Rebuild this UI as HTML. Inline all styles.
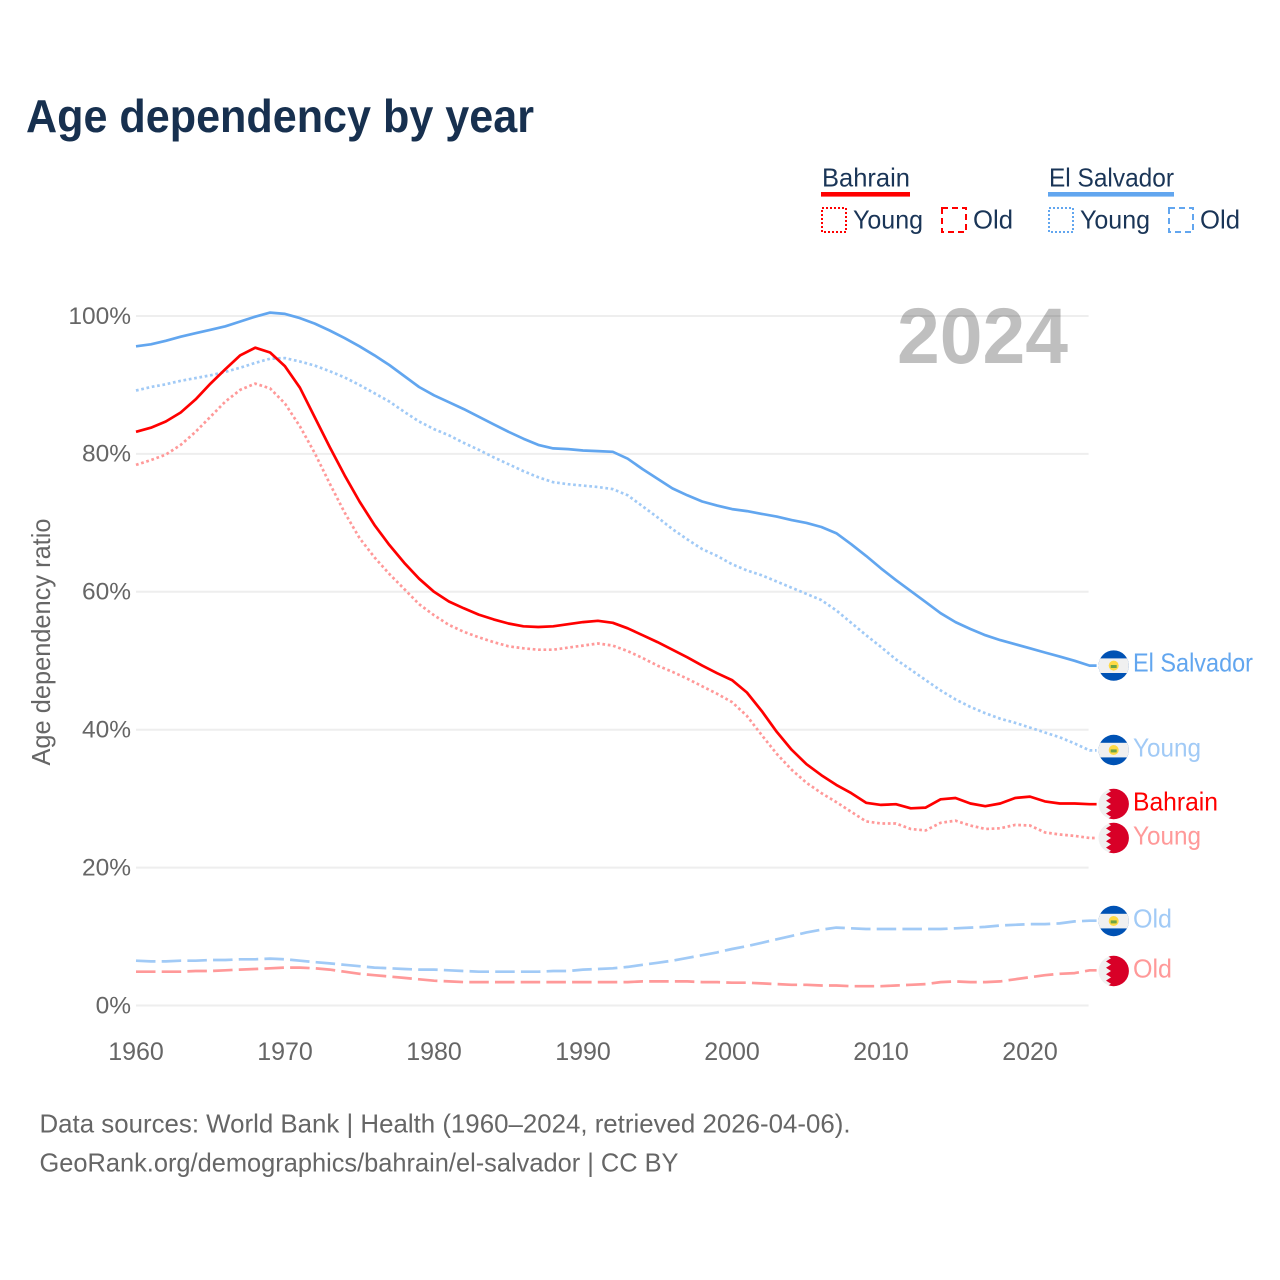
<!DOCTYPE html>
<html lang="en">
<head>
<meta charset="utf-8">
<title>Age dependency by year</title>
<style>
html,body{margin:0;padding:0;background:#fff}
svg{display:block}
text{font-family:"Liberation Sans",sans-serif}
</style>
</head>
<body>
<svg id="chart" xmlns="http://www.w3.org/2000/svg" width="1280" height="1280" viewBox="0 0 1280 1280">
<defs>
<clipPath id="flag-clip-sv-total"><circle cx="1113.7" cy="665.6" r="15.2"/></clipPath>
<clipPath id="flag-clip-sv-young"><circle cx="1113.7" cy="750" r="15.2"/></clipPath>
<clipPath id="flag-clip-sv-old"><circle cx="1113.7" cy="921" r="15.2"/></clipPath>
<clipPath id="flag-clip-bh-total"><circle cx="1113.7" cy="804" r="15.2"/></clipPath>
<clipPath id="flag-clip-bh-young"><circle cx="1113.7" cy="838" r="15.2"/></clipPath>
<clipPath id="flag-clip-bh-old"><circle cx="1113.7" cy="971" r="15.2"/></clipPath>
</defs>

<text x="26" y="132" font-size="46" font-weight="700" fill="#17304f" textLength="508" lengthAdjust="spacingAndGlyphs">Age dependency by year</text>

<g id="legend">
<text x="822" y="186.5" font-size="26" fill="#1a3557" textLength="88" lengthAdjust="spacingAndGlyphs">Bahrain</text>
<rect x="821" y="192" width="89" height="4.6" fill="#ff0000"/>
<rect x="822" y="208" width="24" height="24" fill="none" stroke="#ff0000" stroke-width="2" stroke-dasharray="2 2"/>
<text x="853" y="228.5" font-size="26" fill="#1a3557" textLength="70" lengthAdjust="spacingAndGlyphs">Young</text>
<rect x="942" y="208" width="24" height="24" fill="none" stroke="#ff0000" stroke-width="2" stroke-dasharray="6 4"/>
<text x="973" y="228.5" font-size="26" fill="#1a3557" textLength="40" lengthAdjust="spacingAndGlyphs">Old</text>

<text x="1049" y="186.5" font-size="26" fill="#1a3557" textLength="125" lengthAdjust="spacingAndGlyphs">El Salvador</text>
<rect x="1048" y="192" width="126" height="4.6" fill="#62a6ef"/>
<rect x="1049" y="208" width="24" height="24" fill="none" stroke="#62a6ef" stroke-width="2" stroke-dasharray="2 2"/>
<text x="1080" y="228.5" font-size="26" fill="#1a3557" textLength="70" lengthAdjust="spacingAndGlyphs">Young</text>
<rect x="1169" y="208" width="24" height="24" fill="none" stroke="#62a6ef" stroke-width="2" stroke-dasharray="6 4"/>
<text x="1200" y="228.5" font-size="26" fill="#1a3557" textLength="40" lengthAdjust="spacingAndGlyphs">Old</text>
</g>

<g id="grid"></g>
<g id="axis-labels"></g>

<text x="897" y="363" font-size="79" font-weight="700" fill="#000000" fill-opacity="0.25" textLength="171" lengthAdjust="spacingAndGlyphs">2024</text>

<text transform="translate(50 642) rotate(-90)" text-anchor="middle" font-size="26" fill="#666666" textLength="247" lengthAdjust="spacingAndGlyphs">Age dependency ratio</text>

<g id="series"></g>

<g id="flags">
<g clip-path="url(#flag-clip-sv-total)">
<rect x="1098" y="650" width="32" height="32" fill="#0052b4"/><rect x="1098" y="658.4" width="32" height="14.6" fill="#f0f0f0"/><circle cx="1113.7" cy="665.6" r="5" fill="#ffda44"/><rect x="1110.7" y="665" width="6" height="3" fill="#6da544"/>
</g>
<g clip-path="url(#flag-clip-sv-young)">
<rect x="1098" y="734" width="32" height="32" fill="#0052b4"/><rect x="1098" y="742.8" width="32" height="14.6" fill="#f0f0f0"/><circle cx="1113.7" cy="750" r="5" fill="#ffda44"/><rect x="1110.7" y="749.4" width="6" height="3" fill="#6da544"/>
</g>
<g clip-path="url(#flag-clip-sv-old)">
<rect x="1098" y="905" width="32" height="32" fill="#0052b4"/><rect x="1098" y="913.8" width="32" height="14.6" fill="#f0f0f0"/><circle cx="1113.7" cy="921" r="5" fill="#ffda44"/><rect x="1110.7" y="920.4" width="6" height="3" fill="#6da544"/>
</g>
<g clip-path="url(#flag-clip-bh-total)">
<rect x="1098" y="788" width="32" height="32" fill="#f0f0f0"/><path transform="translate(0 804)" d="M1130-16H1106L1111-12.8 1106-9.6 1111-6.4 1106-3.2 1111 0 1106 3.2 1111 6.4 1106 9.6 1111 12.8 1106 16H1130Z" fill="#d80027"/>
</g>
<g clip-path="url(#flag-clip-bh-young)">
<rect x="1098" y="822" width="32" height="32" fill="#f0f0f0"/><path transform="translate(0 838)" d="M1130-16H1106L1111-12.8 1106-9.6 1111-6.4 1106-3.2 1111 0 1106 3.2 1111 6.4 1106 9.6 1111 12.8 1106 16H1130Z" fill="#d80027"/>
</g>
<g clip-path="url(#flag-clip-bh-old)">
<rect x="1098" y="955" width="32" height="32" fill="#f0f0f0"/><path transform="translate(0 971)" d="M1130-16H1106L1111-12.8 1106-9.6 1111-6.4 1106-3.2 1111 0 1106 3.2 1111 6.4 1106 9.6 1111 12.8 1106 16H1130Z" fill="#d80027"/>
</g>
</g>

<g id="end-labels">
<text x="1133" y="671.5" font-size="26" fill="#62a6ef" textLength="120" lengthAdjust="spacingAndGlyphs">El Salvador</text>
<text x="1133" y="756.5" font-size="26" fill="#a1caf6" textLength="68" lengthAdjust="spacingAndGlyphs">Young</text>
<text x="1133" y="810.5" font-size="26" fill="#ff0000" textLength="85" lengthAdjust="spacingAndGlyphs">Bahrain</text>
<text x="1133" y="844.5" font-size="26" fill="#ff9999" textLength="68" lengthAdjust="spacingAndGlyphs">Young</text>
<text x="1133" y="927.5" font-size="26" fill="#a1caf6" textLength="39" lengthAdjust="spacingAndGlyphs">Old</text>
<text x="1133" y="977.5" font-size="26" fill="#ff9999" textLength="39" lengthAdjust="spacingAndGlyphs">Old</text>
</g>

<text x="39.5" y="1132.5" font-size="26" fill="#666666" textLength="811" lengthAdjust="spacingAndGlyphs">Data sources: World Bank | Health (1960–2024, retrieved 2026-04-06).</text>
<text x="39.5" y="1171.5" font-size="26" fill="#666666" textLength="639" lengthAdjust="spacingAndGlyphs">GeoRank.org/demographics/bahrain/el-salvador | CC BY</text>
</svg>

<script>
const startYear = 1960;
const xTickYears = [1960, 1970, 1980, 1990, 2000, 2010, 2020];
const yTickValues = [0, 20, 40, 60, 80, 100];

const salvadorTotal = [95.6,95.9,96.4,97.0,97.5,98.0,98.5,99.2,99.9,100.5,100.3,99.7,98.9,97.9,96.8,95.6,94.3,92.9,91.3,89.7,88.5,87.5,86.5,85.4,84.3,83.2,82.2,81.3,80.8,80.7,80.5,80.4,80.3,79.3,77.8,76.4,75.0,74.0,73.1,72.5,72.0,71.7,71.3,70.9,70.4,70.0,69.4,68.5,66.9,65.2,63.4,61.7,60.1,58.5,56.9,55.6,54.6,53.7,53.0,52.4,51.8,51.2,50.6,50.0,49.3];
const salvadorYoung = [89.2,89.7,90.1,90.6,91.0,91.4,91.9,92.5,93.2,93.8,93.9,93.4,92.8,92.0,91.1,90.0,88.8,87.6,86.1,84.7,83.6,82.7,81.6,80.6,79.5,78.5,77.5,76.6,75.9,75.6,75.4,75.2,74.9,74.0,72.4,70.8,69.1,67.6,66.2,65.2,64.0,63.1,62.4,61.5,60.6,59.7,58.8,57.3,55.5,53.7,52.0,50.2,48.7,47.2,45.7,44.4,43.3,42.4,41.6,41.0,40.3,39.6,38.9,38.0,37.0];
const salvadorOld = [6.5,6.4,6.4,6.5,6.5,6.6,6.6,6.7,6.7,6.8,6.7,6.5,6.3,6.1,5.9,5.7,5.5,5.4,5.3,5.2,5.2,5.1,5.0,4.9,4.9,4.9,4.9,4.9,5.0,5.0,5.2,5.3,5.4,5.6,5.9,6.2,6.5,6.9,7.3,7.7,8.2,8.6,9.1,9.6,10.1,10.6,11.0,11.3,11.2,11.1,11.1,11.1,11.1,11.1,11.1,11.2,11.3,11.4,11.6,11.7,11.8,11.8,11.9,12.2,12.3];
const bahrainTotal = [83.2,83.8,84.7,86.0,87.9,90.2,92.3,94.3,95.4,94.7,92.7,89.6,85.3,81.0,76.9,73.1,69.7,66.8,64.2,61.9,60.0,58.6,57.6,56.7,56.0,55.4,55.0,54.9,55.0,55.3,55.6,55.8,55.5,54.7,53.7,52.7,51.6,50.5,49.3,48.2,47.2,45.4,42.7,39.7,37.1,35.0,33.4,32.0,30.8,29.4,29.1,29.2,28.6,28.7,29.9,30.1,29.3,28.9,29.3,30.1,30.3,29.6,29.3,29.3,29.2];
const bahrainYoung = [78.4,79.1,79.9,81.3,83.2,85.4,87.6,89.3,90.2,89.5,87.3,84.0,80.1,75.7,71.5,67.8,65.0,62.6,60.4,58.2,56.6,55.2,54.2,53.4,52.7,52.1,51.8,51.6,51.6,51.9,52.2,52.5,52.2,51.4,50.4,49.3,48.4,47.4,46.3,45.2,44.0,42.0,39.2,36.5,34.2,32.3,30.8,29.5,28.1,26.7,26.4,26.4,25.6,25.4,26.5,26.8,26.1,25.6,25.7,26.2,26.1,25.1,24.8,24.6,24.3];
const bahrainOld = [4.9,4.9,4.9,4.9,5.0,5.0,5.1,5.2,5.3,5.4,5.5,5.5,5.4,5.2,4.9,4.6,4.4,4.2,4.0,3.8,3.6,3.5,3.4,3.4,3.4,3.4,3.4,3.4,3.4,3.4,3.4,3.4,3.4,3.4,3.5,3.5,3.5,3.5,3.4,3.4,3.3,3.3,3.2,3.1,3.0,3.0,2.9,2.9,2.8,2.8,2.8,2.9,3.0,3.1,3.4,3.5,3.4,3.4,3.5,3.8,4.1,4.4,4.6,4.7,5.1];

const SVG_NS = 'http://www.w3.org/2000/svg';
const xPos = function (year) { return 136 + (year - startYear) * 14.9; };
const yPos = function (pct) { return 1005.5 - pct * 6.895; };

const grid = document.getElementById('grid');
const tickLabels = document.getElementById('axis-labels');

yTickValues.forEach(function (v) {
  const line = document.createElementNS(SVG_NS, 'line');
  line.setAttribute('x1', xPos(startYear));
  line.setAttribute('x2', xPos(2024) - 1);
  line.setAttribute('y1', yPos(v));
  line.setAttribute('y2', yPos(v));
  line.setAttribute('stroke', '#eeeeee');
  line.setAttribute('stroke-width', '2');
  
  
  grid.appendChild(line);

  const label = document.createElementNS(SVG_NS, 'text');
  label.setAttribute('x', 131);
  label.setAttribute('y', yPos(v) + 7.8);
  label.setAttribute('text-anchor', 'end');
  label.setAttribute('font-size', '24.5');
  label.setAttribute('fill', '#666666');
  
  
  label.textContent = v + '%';
  tickLabels.appendChild(label);
});

xTickYears.forEach(function (year) {
  const label = document.createElementNS(SVG_NS, 'text');
  label.setAttribute('x', xPos(year));
  label.setAttribute('y', 1060);
  label.setAttribute('text-anchor', 'middle');
  label.setAttribute('font-size', '25');
  label.setAttribute('fill', '#666666');
  
  
  label.textContent = year;
  tickLabels.appendChild(label);
});

const seriesGroup = document.getElementById('series');

function drawSeries(values, color, dash, width, name) {
  let d = '';
  values.forEach(function (v, i) {
    d += (i ? 'L' : 'M') + xPos(startYear + i).toFixed(1) + ' ' + yPos(v).toFixed(1);
  });
  d += 'L' + (xPos(startYear + values.length - 1) + 7).toFixed(1) + ' ' + yPos(values[values.length - 1]).toFixed(1);
  const path = document.createElementNS(SVG_NS, 'path');
  path.setAttribute('d', d);
  path.setAttribute('fill', 'none');
  path.setAttribute('stroke', color);
  path.setAttribute('stroke-width', width);
  path.setAttribute('stroke-linejoin', 'round');
  if (dash) path.setAttribute('stroke-dasharray', dash);
  
  
  seriesGroup.appendChild(path);
}

drawSeries(salvadorOld, '#a1caf6', '19.5 6.2', 2.7, 'line-el-salvador-old');
drawSeries(bahrainOld, '#ff9999', '19.5 6.2', 2.7, 'line-bahrain-old');
drawSeries(salvadorYoung, '#a1caf6', '2.7 2.7', 2.7, 'line-el-salvador-young');
drawSeries(bahrainYoung, '#ff9999', '2.7 2.7', 2.7, 'line-bahrain-young');
drawSeries(salvadorTotal, '#62a6ef', '', 2.7, 'line-el-salvador-total');
drawSeries(bahrainTotal, '#ff0000', '', 2.7, 'line-bahrain-total');
</script>
</body>
</html>
